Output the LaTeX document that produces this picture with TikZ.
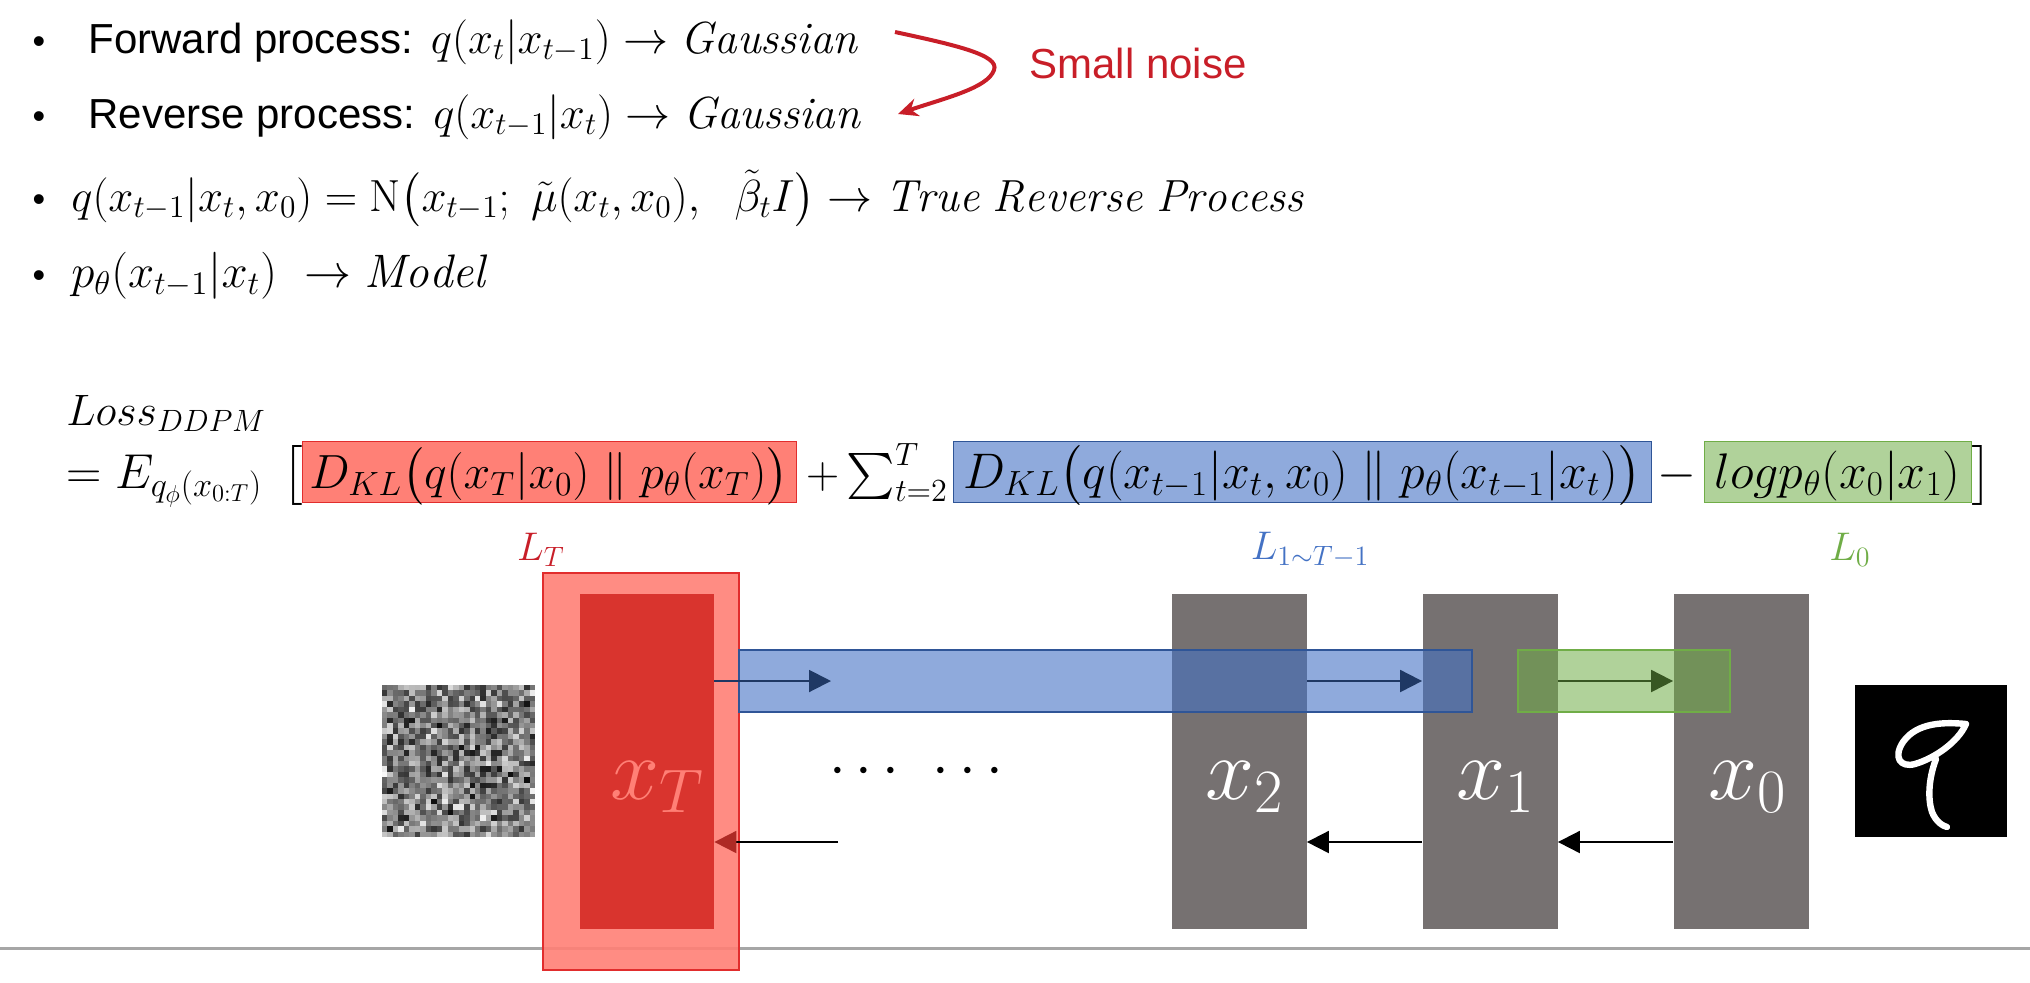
\RequirePackage{fix-cm}
\documentclass[tikz,border=0pt]{standalone}
\usepackage{amsmath}
\usepackage{amssymb}
\usepackage{fontspec}
\newfontfamily\arialfont{Liberation Sans}
\usepackage{tikz}
\usetikzlibrary{positioning,calc}
\usetikzlibrary{arrows.meta}
\definecolor{rossorumore}{RGB}{200,30,40}
\definecolor{rossochiaro}{RGB}{255,128,118}
\definecolor{rossoscuro}{RGB}{217,52,46}
\definecolor{rossobordo}{RGB}{225,45,45}
\definecolor{grigio}{RGB}{118,113,113}
\definecolor{blu}{RGB}{68,114,196}
\definecolor{blubordo}{RGB}{47,85,151}
\definecolor{blunotte}{RGB}{31,56,100}
\definecolor{verde}{RGB}{112,173,71}
\definecolor{verdescuro}{RGB}{56,87,35}
\newcommand{\sans}[1]{{\fontsize{21}{25}\selectfont\arialfont #1}}
\tikzstyle{riga} = [anchor=base west, inner sep=0pt, font=\fontsize{22.5}{26}\selectfont]
\tikzstyle{punto} = [anchor=base, inner sep=0pt, font=\fontsize{18}{22}\selectfont\arialfont]
\tikzstyle{termine} = [rectangle, anchor=base, inner sep=0pt, text height=23.5pt, text depth=7pt, font=\fontsize{25}{30}\selectfont]
\tikzstyle{etichetta} = [inner sep=0pt, font=\fontsize{20}{24}\selectfont]
\tikzstyle{blocco} = [rectangle, fill=grigio, minimum width=67.5pt, minimum height=167.5pt, inner sep=0pt]
\tikzstyle{fascia} = [rectangle, minimum height=31pt, inner sep=0pt, line width=0.6pt]
\tikzstyle{nomex} = [inner sep=0pt, text=white, font=\fontsize{44}{50}\selectfont]
\tikzstyle{arrow} = [line width=1pt, -{Triangle[length=11pt,width=11pt]}]

\begin{document}
\begin{tikzpicture}[x=0.5pt, y=-0.5pt]
\useasboundingbox (0,0) rectangle (2030,982);
% elenco in alto
\foreach \y [count=\i] in {53,128,211,287}
	\node[punto] (punto\i) at (39,\y) {•};
\node[riga] (fwd) at (88,53) {\sans{Forward process:} $q(x_t|x_{t-1}) \rightarrow \mathit{Gaussian}$};
\node[riga] (rev) at (88,128) {\sans{Reverse process:} $q(x_{t-1}|x_t) \rightarrow \mathit{Gaussian}$};
\node[riga] (vera) at (71,211) {$q(x_{t-1}|x_t,x_0) = \mathrm{N}\bigl(x_{t-1};\ \tilde{\mu}(x_t,x_0),\ \ \tilde{\beta}_t I\bigr) \rightarrow \mathit{True\ Reverse\ Process}$};
\node[riga, font=\fontsize{23.5}{27}\selectfont] (modello) at (71,287) {$p_\theta(x_{t-1}|x_t)\ \rightarrow \mathit{Model}$};
\node[riga, text=rossorumore, font=\fontsize{21}{25}\selectfont\arialfont] (rumore) at (1029,78) {Small noise};
\coordinate (sn1) at (895,32);
\coordinate (sn2) at (898,114);
\draw[rossorumore, line width=2pt, -{Stealth[length=10pt,width=9pt]}] (sn1) .. controls (955,45) and (1000,55) .. (994,70) .. controls (988,88) and (945,98) .. (sn2);

% funzione di perdita
\node[riga, font=\fontsize{22}{26}\selectfont] (loss) at (66,425) {$Loss_{DDPM}$};
\node[riga, font=\fontsize{24.5}{28}\selectfont] (att) at (66,488) {$= E_{q_\phi(x_{0:T})}$};
\node[termine] (apri) at (293,488) {$\big[$};
\node[termine, fill=rossochiaro, draw=rossobordo, minimum width=247pt, font=\fontsize{24}{29}\selectfont] (lt) at (549,488) {$D_{KL}\big(q(x_T|x_0)\parallel p_\theta(x_T)\big)$};
\node[termine, font=\fontsize{23}{27}\selectfont] (somma) at (877,488) {$+\textstyle\sum_{t=2}^{T}$};
\node[termine, fill=blu!60, draw=blubordo, minimum width=349pt] (lmid) at (1302,488) {$D_{KL}\big(q(x_{t-1}|x_t,x_0)\parallel p_\theta(x_{t-1}|x_t)\big)$};
\node[termine] (meno) at (1677,488) {$-$};
\node[termine, fill=verde!55, draw=verde, minimum width=133.5pt] (l0) at (1837.5,488) {$log p_\theta(x_0|x_1)$};
\node[termine] (chiudi) at (1982,488) {$\big]$};
\node[etichetta, text=rossorumore] (eLT) at (541,550) {$L_T$};
\node[etichetta, text=blu] (eLmid) at (1310,550) {$L_{1\sim T-1}$};
\node[etichetta, text=verde] (eL0) at (1850,550) {$L_0$};

% catena x_T ... x_0
\draw[gray!70, line width=1.5pt] (0,948) -- (2030,948);
\pgfmathsetseed{17}
\foreach \i in {0,...,27}
	\foreach \j in {0,...,27} {
		\pgfmathsetmacro{\g}{int(50+48*(rnd+rnd-1))}
		\fill[black!\g] ({382+\i*5.47},{685+\j*5.43}) rectangle +(5.6,5.6);
	}
\node[rectangle, fill=rossochiaro, fill opacity=0.9, draw=rossobordo, line width=0.8pt, minimum width=98pt, minimum height=198.5pt, inner sep=0pt] (rosso) at (641,771.5) {};
\node[rectangle, fill=rossoscuro, minimum width=67pt, minimum height=167.5pt, inner sep=0pt] (xT) at (647,761.5) {};
\node[nomex, text=rossochiaro] (nxT) at (657,787) {$x_T$};
\node[blocco] (x2) at (1239,761.5) {};
\node[blocco] (x1) at (1490,761.5) {};
\node[blocco] (x0) at (1741,761.5) {};
\node[nomex] (nx2) at (1245,787) {$x_2$};
\node[nomex] (nx1) at (1496,787) {$x_1$};
\node[nomex] (nx0) at (1748,787) {$x_0$};
\node[inner sep=0pt, font=\fontsize{30}{34}\selectfont] (puntini) at (921,772) {$\cdots$\hspace{12pt}$\cdots$};
\node[fascia, fill=blu, fill opacity=0.6, draw=blubordo, minimum width=366.5pt] (fblu) at (1105.5,681) {};
\node[fascia, fill=verde, fill opacity=0.55, draw=verde, minimum width=106pt] (fverde) at (1624,681) {};
\coordinate (a1) at (831,681);
\coordinate (giu) at (0,842);
\coordinate (d1) at (838,842);
\draw[arrow, blunotte] (xT.east |- fblu) -- (a1);
\draw[arrow, blunotte] (x2.east |- fblu) -- (x1.west |- fblu);
\draw[arrow, verdescuro] (x1.east |- fverde) -- (x0.west |- fverde);
\draw[line width=1pt, -{Triangle[length=11pt,width=11pt,color=rossoscuro!80!black]}] (d1) -- (d1 -| xT.east);
\draw[arrow] (x1.west |- giu) -- (x2.east |- giu);
\draw[arrow] (x0.west |- giu) -- (x1.east |- giu);
% cifra 9
\fill[black] (1855,685) rectangle (2007,837);
\draw[white, line width=3.2pt, line cap=round, line join=round]
	(1966,724) .. controls (1945,722) and (1917,722) .. (1903,742)
	.. controls (1893,757) and (1900,768) .. (1915,764)
	.. controls (1935,758) and (1958,742) .. (1966,724)
	(1936,759) .. controls (1928,780) and (1928,800) .. (1932,812)
	.. controls (1936,822) and (1943,826) .. (1947,827);
\end{tikzpicture}
\end{document}
